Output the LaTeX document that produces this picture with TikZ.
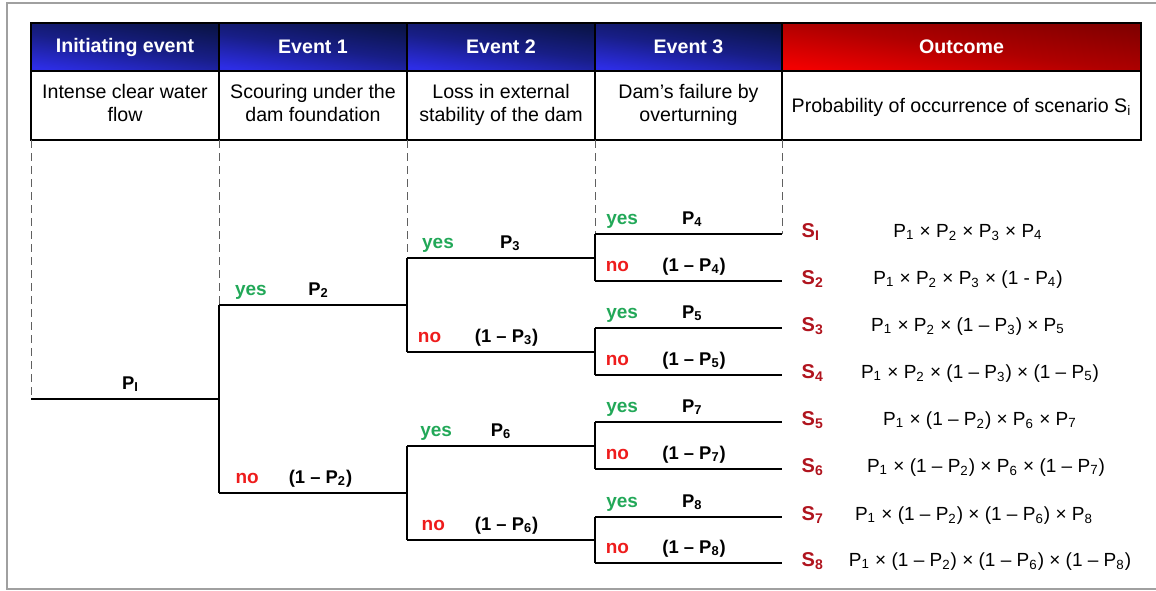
\documentclass[tikz,border=0pt]{standalone}
\usepackage{fontspec}
\setmainfont{Liberation Sans}
\usetikzlibrary{positioning}

\definecolor{hdnavy}{HTML}{0A1448}
\definecolor{hdblue}{HTML}{2D2DE6}
\definecolor{hdmaroon}{HTML}{820000}
\definecolor{hdred}{HTML}{F20000}
\definecolor{yesgreen}{HTML}{22A858}
\definecolor{nored}{HTML}{EE1C1C}
\definecolor{scenred}{HTML}{B0141E}
\definecolor{framegray}{HTML}{A0A0A0}
\definecolor{guidegray}{HTML}{606060}

\newcommand{\pp}[1]{P\textsubscript{#1}}
\newcommand{\qp}[1]{(1 – P\textsubscript{#1})}

\begin{document}
\begin{tikzpicture}[x=0.5pt,y=-0.5pt,line width=1pt,
  head cell/.style={draw,outer sep=0pt,inner sep=0pt,minimum height=24pt,text=white,
    font=\fontsize{9.8}{11.5}\selectfont\bfseries},
  blue head/.style={head cell,bottom color=hdblue,top color=hdnavy,
    middle color=hdnavy!60!hdblue,shading angle=-8},
  red head/.style={head cell,bottom color=hdred,top color=hdmaroon,
    middle color=hdmaroon!60!hdred,shading angle=-8},
  text cell/.style={draw,fill=white,outer sep=0pt,inner sep=0pt,minimum height=34.5pt,
    align=center,text depth=2.5pt,font=\fontsize{9.8}{11.5}\selectfont},
  guide/.style={draw=guidegray,line width=0.5pt,dash pattern=on 4pt off 2.5pt},
  yes label/.style={anchor=base,yshift=5pt,text=yesgreen,font=\fontsize{9.5}{11}\selectfont\bfseries},
  no label/.style={anchor=base,yshift=5pt,text=nored,font=\fontsize{9.5}{11}\selectfont\bfseries},
  prob label/.style={anchor=base,yshift=5pt,font=\fontsize{9.2}{11}\selectfont\bfseries},
  scen label/.style={anchor=base west,text=scenred,font=\fontsize{10}{12}\selectfont\bfseries},
  formula/.style={anchor=base,font=\fontsize{9.5}{11}\selectfont}]

  \useasboundingbox (0,0) rectangle (1156,590);
  \draw[framegray,line width=0.6pt] (1156,3) -- (7,3) -- (7,589) -- (1156,589);

  \node[blue head,minimum width=94pt,anchor=north west] (h0) at (31,23) {Initiating event};
  \node[blue head,minimum width=94pt,right=0pt of h0] (h1) {Event 1};
  \node[blue head,minimum width=94pt,right=0pt of h1] (h2) {Event 2};
  \node[blue head,minimum width=93.5pt,right=0pt of h2] (h3) {Event 3};
  \node[red head,minimum width=179.5pt,right=0pt of h3] (h4) {Outcome};
  \node[text cell,minimum width=94pt,below=0pt of h0] (t0) {Intense clear water\\flow};
  \node[text cell,minimum width=94pt,below=0pt of h1] (t1) {Scouring under the\\dam foundation};
  \node[text cell,minimum width=94pt,below=0pt of h2] (t2) {Loss in external\\stability of the dam};
  \node[text cell,minimum width=93.5pt,below=0pt of h3] (t3) {Dam’s failure by\\overturning};
  \node[text cell,text depth=0pt,minimum width=179.5pt,below=0pt of h4] (t4) {Probability of occurrence of scenario S\textsubscript{i}};

  \coordinate (r) at (31,399);
  \coordinate (a) at (219,399);
  \coordinate (a1) at (219,305);
  \coordinate (a2) at (219,493);
  \coordinate (b1) at (407,305);
  \coordinate (b2) at (407,493);
  \coordinate (b11) at (407,258);
  \coordinate (b12) at (407,352);
  \coordinate (b21) at (407,446);
  \coordinate (b22) at (407,540);
  \foreach \y [count=\i] in {234,281,328,375,422,469,517,563}
    {\coordinate (c\i) at (595,\y); \coordinate (e\i) at (782,\y);}

  \draw[guide] (t0.south west) -- (r);
  \draw[guide] (t1.south west) -- (a1);
  \draw[guide] (t2.south west) -- (b11);
  \draw[guide] (t3.south west) -- (c1);
  \draw[guide] (t4.south west) -- (e1);

  \draw (r) -- node[prob label,pos=.53] {P\textsubscript{I}} (a);
  \draw (a1) -- (a2);
  \path (a1) edge node[yes label,pos=.17] {yes} node[prob label,pos=.53] {\pp2} (b1)
        (a2) edge node[no label,pos=.15] {no} node[prob label,pos=.54] {\qp2} (b2);

  \draw (b11) -- (b12);
  \draw (b21) -- (b22);
  \path (b11) edge node[yes label,pos=.165] {yes} node[prob label,pos=.55] {\pp3} (c1 |- b11)
        (b12) edge node[no label,pos=.12] {no} node[prob label,pos=.53] {\qp3} (c3 |- b12)
        (b21) edge node[yes label,pos=.155] {yes} node[prob label,pos=.5] {\pp6} (c5 |- b21)
        (b22) edge node[no label,pos=.14] {no} node[prob label,pos=.53] {\qp6} (c7 |- b22);

  \foreach \i/\j/\p in {1/2/4,3/4/5,5/6/7,7/8/8}
    {\draw (c\i) -- (c\j);
     \path (c\i) edge node[yes label,pos=.145] {yes} node[prob label,pos=.52] {\pp\p} (e\i)
           (c\j) edge node[no label,pos=.12] {no} node[prob label,pos=.53] {\qp\p} (e\j);}

  \foreach \s [count=\i] in {I,2,3,4,5,6,7,8}
    \node[scen label] (s\i) at ([xshift=6pt,yshift=-1.5pt]e\i) {S\textsubscript{\s}};

  \node[formula] (f1) at (968,237) {\pp1 × \pp2 × \pp3 × \pp4};
  \node[formula] (f2) at (968,284) {\pp1 × \pp2 × \pp3 × (1 - P\textsubscript{4})};
  \node[formula] (f3) at (968,331) {\pp1 × \pp2 × \qp3 × \pp5};
  \node[formula] (f4) at (980,378) {\pp1 × \pp2 × \qp3 × \qp5};
  \node[formula] (f5) at (980,425) {\pp1 × \qp2 × \pp6 × \pp7};
  \node[formula] (f6) at (986,472) {\pp1 × \qp2 × \pp6 × \qp7};
  \node[formula] (f7) at (974,520) {\pp1 × \qp2 × \qp6 × \pp8};
  \node[formula] (f8) at (990,566) {\pp1 × \qp2 × \qp6 × \qp8};
\end{tikzpicture}
\end{document}
